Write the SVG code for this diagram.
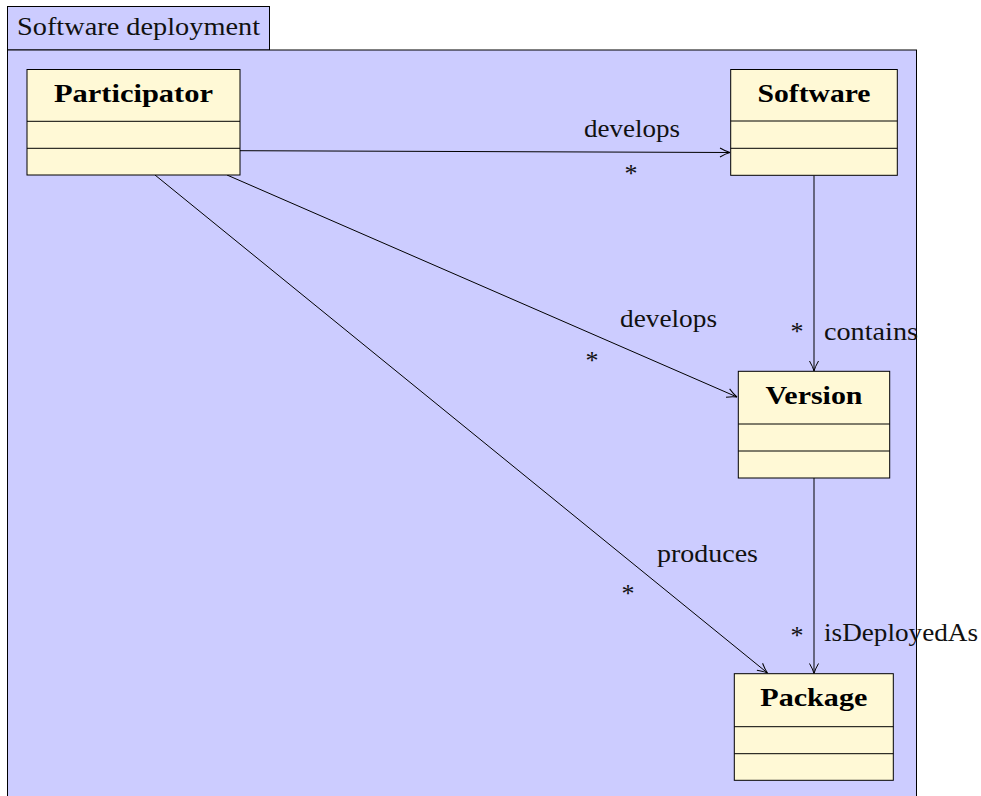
<svg xmlns="http://www.w3.org/2000/svg" width="981" height="796" viewBox="0 0 981 796">
<defs>
<style>
.frame{fill:#ccccff;stroke:#000;stroke-width:1}
.cls{fill:#fff9d6;stroke:#000;stroke-width:1}
.div{stroke:#000;stroke-width:1}
text{font-family:'Liberation Serif','Times New Roman',Times,serif}
.t{font-size:26px;fill:#111}
.b{font-size:26px;font-weight:bold;fill:#000;text-anchor:middle}
.conn{stroke:#000;stroke-width:1;fill:none;marker-end:url(#arr)}
.star{font-size:26px;fill:#111;text-anchor:middle}
</style>
<marker id="arr" viewBox="-11 -6 13 12" refX="0" refY="0" markerWidth="13" markerHeight="12" markerUnits="userSpaceOnUse" orient="auto">
<path d="M -10 -4.5 Q -4 -1 0 0 Q -4 1 -10 4.5" fill="none" stroke="#000" stroke-width="1"/>
</marker>
</defs>
<g id="frame">
<rect class="frame" x="7.5" y="6.5" width="262" height="43.5"/>
<rect class="frame" x="7.5" y="50" width="909" height="760"/>
<text class="t" x="17" y="35" textLength="243" lengthAdjust="spacingAndGlyphs">Software deployment</text>
</g>
<g id="connectors">
<line class="conn" x1="240" y1="150.7" x2="730" y2="152.5"/>
<line class="conn" x1="227" y1="175" x2="737" y2="397"/>
<line class="conn" x1="155" y1="175" x2="767.5" y2="673"/>
<line class="conn" x1="814" y1="175.5" x2="814" y2="371"/>
<line class="conn" x1="814" y1="478" x2="814" y2="673.5"/>
<text class="t" x="584" y="137" textLength="96" lengthAdjust="spacingAndGlyphs">develops</text>
<text class="star" x="631" y="182">*</text>
<text class="t" x="620" y="327" textLength="97" lengthAdjust="spacingAndGlyphs">develops</text>
<text class="star" x="592" y="369">*</text>
<text class="t" x="657" y="562" textLength="101" lengthAdjust="spacingAndGlyphs">produces</text>
<text class="star" x="628" y="602">*</text>
<text class="t" x="824" y="340" textLength="94" lengthAdjust="spacingAndGlyphs">contains</text>
<text class="star" x="797" y="340">*</text>
<text class="t" x="824" y="641" textLength="154" lengthAdjust="spacingAndGlyphs">isDeployedAs</text>
<text class="star" x="797" y="644">*</text>
</g>
<g id="participator">
<rect class="cls" x="27" y="69.5" width="213" height="105.5"/>
<line class="div" x1="27" y1="121.3" x2="240" y2="121.3"/>
<line class="div" x1="27" y1="148.3" x2="240" y2="148.3"/>
<text class="b" x="133.5" y="102" textLength="159" lengthAdjust="spacingAndGlyphs">Participator</text>
</g>
<g id="software">
<rect class="cls" x="730.7" y="69.5" width="166.6" height="105.8"/>
<line class="div" x1="730.7" y1="121" x2="897.3" y2="121"/>
<line class="div" x1="730.7" y1="148.3" x2="897.3" y2="148.3"/>
<text class="b" x="814" y="102" textLength="113" lengthAdjust="spacingAndGlyphs">Software</text>
</g>
<g id="version">
<rect class="cls" x="738.3" y="371.3" width="151.4" height="106.7"/>
<line class="div" x1="738.3" y1="424" x2="889.7" y2="424"/>
<line class="div" x1="738.3" y1="451" x2="889.7" y2="451"/>
<text class="b" x="814" y="404" textLength="97" lengthAdjust="spacingAndGlyphs">Version</text>
</g>
<g id="package">
<rect class="cls" x="734.3" y="673.7" width="159" height="106.6"/>
<line class="div" x1="734.3" y1="726.7" x2="893.3" y2="726.7"/>
<line class="div" x1="734.3" y1="753.7" x2="893.3" y2="753.7"/>
<text class="b" x="813.8" y="706" textLength="107" lengthAdjust="spacingAndGlyphs">Package</text>
</g>
</svg>
